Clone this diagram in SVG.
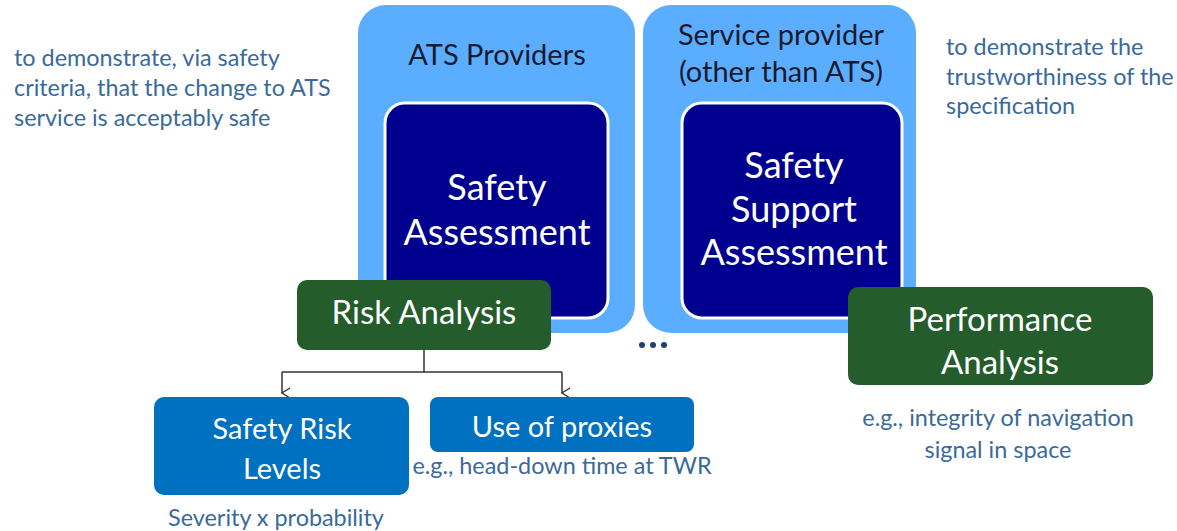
<svg xmlns="http://www.w3.org/2000/svg" width="1177" height="531" viewBox="0 0 1177 531">
<defs>
<style>
text{font-family:Lato,"Liberation Sans",sans-serif}
.outer{fill:#5BADFF}
.inner{fill:#00008F;stroke:#fff;stroke-width:3}
.green{fill:#245C2B}
.blue{fill:#0070C0}
.hdr{font-size:29px;fill:#1a1a2e;text-anchor:middle}
.big{font-size:36px;fill:#fff;text-anchor:middle}
.mid{font-size:33px;fill:#fff;text-anchor:middle}
.sm{font-size:29px;fill:#fff;text-anchor:middle}
.note{font-size:23.4px;fill:#3A6A9A}
.cap{font-size:23.4px;fill:#3A6A9A;text-anchor:middle}
.conn{fill:none;stroke:#333;stroke-width:1.5}
</style>
<marker id="arr" viewBox="0 0 12 10" refX="6" refY="9" markerWidth="12" markerHeight="10" markerUnits="userSpaceOnUse" orient="auto-start-reverse">
<path d="M1,1 L6,9 L11,1" fill="none" stroke="#333" stroke-width="1.4"/>
</marker>
</defs>
<rect width="1177" height="531" fill="#fff"/>
<g id="note-left">
<text class="note" x="14" y="66">to demonstrate, via safety</text>
<text class="note" x="14" y="96">criteria, that the change to ATS</text>
<text class="note" x="14" y="126">service is acceptably safe</text>
</g>
<g id="note-right">
<text class="note" x="946" y="55">to demonstrate the</text>
<text class="note" x="946" y="85">trustworthiness of the</text>
<text class="note" x="946" y="114">specification</text>
</g>
<g id="ats-providers">
<rect class="outer" x="358" y="5" width="277" height="328" rx="28"/>
<text class="hdr" x="497" y="65">ATS Providers</text>
</g>
<g id="safety-assessment">
<rect class="inner" x="385" y="103" width="223" height="215" rx="20"/>
<text class="big" x="497" y="200">Safety</text>
<text class="big" x="497" y="245">Assessment</text>
</g>
<g id="service-provider">
<rect class="outer" x="643" y="5" width="273" height="328" rx="28"/>
<text class="hdr" x="781" y="45">Service provider</text>
<text class="hdr" x="781" y="82">(other than ATS)</text>
</g>
<g id="safety-support-assessment">
<rect class="inner" x="682" y="103" width="220" height="215" rx="20"/>
<text class="big" x="794" y="178">Safety</text>
<text class="big" x="794" y="222">Support</text>
<text class="big" x="794" y="265">Assessment</text>
</g>
<g id="connectors">
<path class="conn" d="M424,350 V372"/>
<path class="conn" d="M282,372 H562"/>
<path class="conn" d="M282,372 V393" marker-end="url(#arr)"/>
<path class="conn" d="M562,372 V393" marker-end="url(#arr)"/>
</g>
<g id="risk-analysis">
<rect class="green" x="297" y="280" width="254" height="70" rx="10"/>
<text class="mid" x="424" y="324">Risk Analysis</text>
</g>
<g id="ellipsis" fill="#1F3F6F">
<circle cx="642" cy="345" r="3"/>
<circle cx="653" cy="345" r="3"/>
<circle cx="664" cy="345" r="3"/>
</g>
<g id="performance-analysis">
<rect class="green" x="848" y="287" width="305" height="98" rx="10"/>
<text class="mid" x="1000" y="331">Performance</text>
<text class="mid" x="1000" y="374">Analysis</text>
<text class="cap" x="998" y="426">e.g., integrity of navigation</text>
<text class="cap" x="998" y="458">signal in space</text>
</g>
<g id="safety-risk-levels">
<rect class="blue" x="154" y="397" width="255" height="98" rx="10"/>
<text class="sm" x="282" y="439">Safety Risk</text>
<text class="sm" x="282" y="479">Levels</text>
<text class="cap" x="276" y="526">Severity x probability</text>
</g>
<g id="use-of-proxies">
<rect class="blue" x="430" y="397" width="264" height="55" rx="8"/>
<text class="sm" x="562" y="437">Use of proxies</text>
<text class="cap" x="562" y="474">e.g., head-down time at TWR</text>
</g>
</svg>
